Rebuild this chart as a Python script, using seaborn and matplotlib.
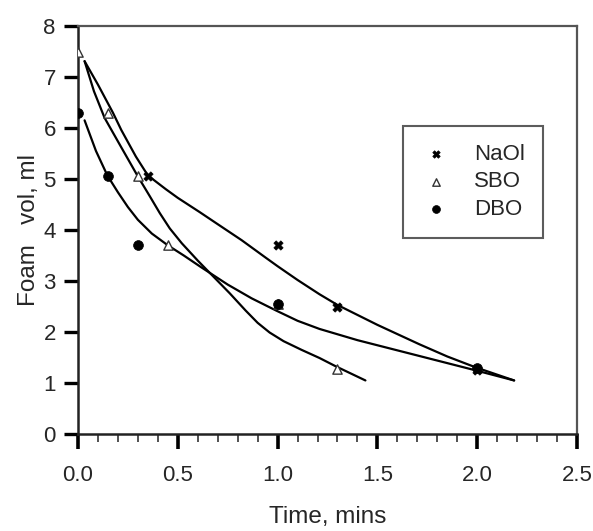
import matplotlib
matplotlib.use("Agg")
import matplotlib.pyplot as plt
from matplotlib.ticker import MultipleLocator
import seaborn as sns
import pandas as pd

# Measured points
naol_t = [0.35, 1.0, 1.3, 2.0]
naol_v = [5.05, 3.7, 2.5, 1.25]
sbo_t = [0.0, 0.15, 0.3, 0.45, 1.0, 1.3]
sbo_v = [7.5, 6.3, 5.05, 3.7, 2.55, 1.27]
dbo_t = [0.0, 0.15, 0.3, 1.0, 2.0]
dbo_v = [6.3, 5.05, 3.7, 2.55, 1.3]

# Fitted curves
naol_fit_t = [0.033, 0.1, 0.175, 0.217, 0.29, 0.35, 0.44, 0.5, 0.61, 0.69, 0.82, 0.943, 1.0, 1.1, 1.21, 1.3, 1.5, 1.71, 1.85, 1.99, 2.185]
naol_fit_v = [7.31, 6.85, 6.3, 5.96, 5.44, 5.07, 4.8, 4.63, 4.35, 4.14, 3.8, 3.45, 3.29, 3.02, 2.74, 2.53, 2.14, 1.76, 1.52, 1.31, 1.05]
sbo_fit_t = [0.033, 0.08, 0.133, 0.217, 0.3, 0.36, 0.41, 0.46, 0.52, 0.6, 0.68, 0.76, 0.84, 0.9, 0.96, 1.03, 1.12, 1.21, 1.29, 1.44]
sbo_fit_v = [7.31, 6.72, 6.2, 5.62, 5.05, 4.66, 4.33, 4.03, 3.74, 3.4, 3.08, 2.76, 2.42, 2.18, 1.99, 1.82, 1.65, 1.49, 1.33, 1.05]
dbo_fit_t = [0.033, 0.09, 0.147, 0.2, 0.25, 0.3, 0.37, 0.45, 0.53, 0.617, 0.75, 0.87, 0.993, 1.1, 1.21, 1.4, 1.63, 1.8, 1.99, 2.185]
dbo_fit_v = [6.15, 5.55, 5.07, 4.74, 4.45, 4.2, 3.93, 3.7, 3.5, 3.27, 2.93, 2.66, 2.42, 2.22, 2.06, 1.84, 1.61, 1.44, 1.25, 1.05]

labels = ["NaOl", "SBO", "DBO"]

sns.set_theme(style="ticks")
plt.rcParams['font.family'] = ['Liberation Sans', 'DejaVu Sans']

fig = plt.figure(figsize=(5.93, 5.31), dpi=100)
ax = fig.add_axes([78/593, 1-434/531, 499/593, 408/531])

fits = pd.concat([
    pd.DataFrame({"t": naol_fit_t, "v": naol_fit_v, "s": "NaOl"}),
    pd.DataFrame({"t": sbo_fit_t, "v": sbo_fit_v, "s": "SBO"}),
    pd.DataFrame({"t": dbo_fit_t, "v": dbo_fit_v, "s": "DBO"}),
])
for name, g in fits.groupby("s"):
    sns.lineplot(data=g, x="t", y="v", ax=ax, color="black", lw=1.6, sort=False, legend=False,
                 solid_joinstyle="round", solid_capstyle="round")

sns.scatterplot(x=naol_t, y=naol_v, ax=ax, marker="X", s=45, color="black",
                edgecolor="black", linewidth=0.5, label=labels[0], zorder=5)
sns.scatterplot(x=sbo_t, y=sbo_v, ax=ax, marker="^", s=45, facecolor="white",
                edgecolor="#333333", linewidth=1.0, label=labels[1], zorder=5)
sns.scatterplot(x=dbo_t, y=dbo_v, ax=ax, marker="o", s=50, color="black",
                edgecolor="black", linewidth=0.5, label=labels[2], zorder=5)

ax.set_xlim(0, 2.5)
ax.set_ylim(0, 8)
ax.xaxis.set_major_locator(MultipleLocator(0.5))
ax.xaxis.set_minor_locator(MultipleLocator(0.1))
ax.yaxis.set_major_locator(MultipleLocator(1))
ax.set_xticklabels([f"{v:.1f}" for v in ax.get_xticks()])
ax.tick_params(axis="x", which="major", direction="out", length=11, width=2.6,
               labelsize=16, pad=11, color="black")
ax.tick_params(axis="x", which="minor", direction="out", length=6, width=1.2, color="#333333")
ax.tick_params(axis="y", which="major", direction="out", length=10, width=2.4,
               labelsize=16, pad=6, color="black")
for side in ["left", "bottom"]:
    ax.spines[side].set_linewidth(1.8)
    ax.spines[side].set_color("#222222")
for side in ["top", "right"]:
    ax.spines[side].set_visible(True)
    ax.spines[side].set_linewidth(1.6)
    ax.spines[side].set_color("#555555")

ax.set_xlabel("Time, mins", fontsize=17.5, labelpad=15)
ax.set_ylabel("Foam   vol, ml", fontsize=17.5, labelpad=2)

leg = ax.legend(loc="upper left", bbox_to_anchor=(0.651, 0.755), bbox_transform=ax.transAxes,
                borderaxespad=0, fontsize=16, frameon=True, fancybox=False,
                borderpad=0.8, labelspacing=0.3, handlelength=1.4, handletextpad=1.0,
                markerscale=0.8)
leg.get_frame().set_edgecolor("#333333")
leg.get_frame().set_linewidth(1.5)

fig.savefig("out.png", dpi=100)
